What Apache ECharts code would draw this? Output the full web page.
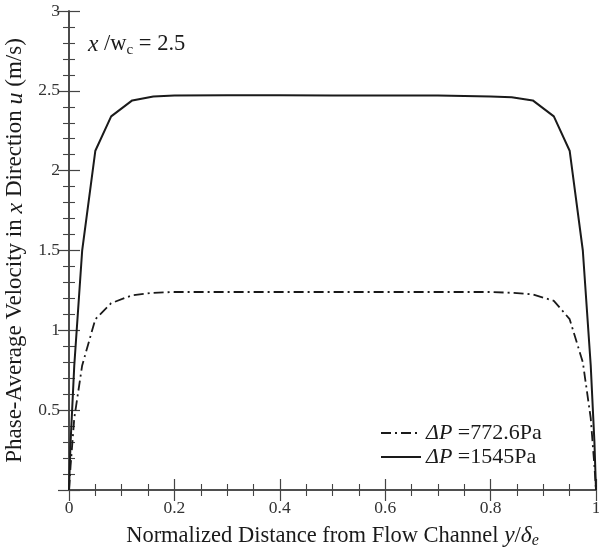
<!DOCTYPE html>
<html>
<head>
<meta charset="utf-8">
<script src="https://cdn.jsdelivr.net/npm/echarts@6/dist/echarts.min.js"></script>
<style>
  html, body { margin: 0; padding: 0; background: #fff; }
  #chart { width: 599px; height: 547px; }
</style>
</head>
<body>
<div id="chart"></div>
<script>
// Normalized distance across the flow channel, y/δe
const yPos = [0, 0.003, 0.01, 0.025, 0.05, 0.08, 0.12, 0.16, 0.2, 0.3, 0.4, 0.5, 0.6, 0.7, 0.8, 0.84, 0.88, 0.92, 0.95, 0.975, 0.99, 0.997, 1];
// Phase-average velocity u (m/s) for each pressure drop
const uLow  = [0, 0.15, 0.45, 0.78, 1.07, 1.17, 1.22, 1.235, 1.24, 1.24, 1.24, 1.24, 1.24, 1.24, 1.24, 1.235, 1.225, 1.185, 1.07, 0.8, 0.45, 0.15, 0];
const uHigh = [0, 0.3, 0.78, 1.5, 2.125, 2.34, 2.44, 2.465, 2.47, 2.472, 2.472, 2.47, 2.47, 2.47, 2.465, 2.46, 2.44, 2.34, 2.125, 1.5, 0.78, 0.3, 0];
const seriesNames = ['772.6Pa', '1545Pa'];
const xTicks = [0, 0.2, 0.4, 0.6, 0.8, 1];
const yTicks = [0.5, 1, 1.5, 2, 2.5, 3];

const serif = '"Liberation Serif", "DejaVu Serif", serif';
const ink = '#1a1a1a';

const pairs = (xs, ys) => xs.map((x, i) => [x, ys[i]]);

const baseAxis = {
  axisLine: { show: true, lineStyle: { color: '#444', width: 1.6 } },
  axisTick: { show: true, inside: true, length: 11, lineStyle: { color: '#444', width: 1.2 } },
  minorTick: { show: true, length: 6, lineStyle: { color: '#444', width: 1.1 } },
  splitLine: { show: false },
  minorSplitLine: { show: false }
};

const chart = echarts.init(document.getElementById('chart'), null, { renderer: 'canvas' });

chart.setOption({
  animation: false,
  backgroundColor: '#fff',
  grid: { left: 69, right: 3, top: 11, bottom: 57, containLabel: false, outerBoundsMode: 'none' },
  xAxis: [
    Object.assign({}, baseAxis, {
      type: 'value', position: 'bottom', min: 0, max: 1, interval: 0.2,
      minorTick: Object.assign({}, baseAxis.minorTick, { splitNumber: 4 }),
      axisLabel: {
        color: '#333', fontFamily: serif, fontSize: 17.5, margin: 9,
        formatter: v => (xTicks.some(t => Math.abs(t - v) < 1e-9) ? String(+v.toFixed(2)) : '')
      },
      name: 'Normalized Distance from Flow Channel {i|y}/{i|δ}{s|e}',
      nameLocation: 'middle', nameGap: 33,
      nameTextStyle: {
        color: ink, fontFamily: serif, fontSize: 22.5, lineHeight: 26,
        rich: {
          i: { fontFamily: serif, fontSize: 23.5, fontStyle: 'italic', color: ink, lineHeight: 26 },
          s: { fontFamily: serif, fontSize: 16, fontStyle: 'italic', color: ink, lineHeight: 14, verticalAlign: 'bottom' }
        }
      }
    }),
    Object.assign({}, baseAxis, {
      type: 'value', position: 'top', min: 0, max: 1, interval: 0.2,
      minorTick: Object.assign({}, baseAxis.minorTick, { splitNumber: 4 }),
      axisLabel: { show: false }
    })
  ],
  yAxis: [
    Object.assign({}, baseAxis, {
      type: 'value', position: 'left', min: 0, max: 3, interval: 0.5,
      minorTick: Object.assign({}, baseAxis.minorTick, { splitNumber: 5 }),
      axisLabel: {
        color: '#333', fontFamily: serif, fontSize: 17.5, margin: 9,
        formatter: v => (yTicks.some(t => Math.abs(t - v) < 1e-9) ? String(v) : '')
      },
      name: '{n|Phase-Average Velocity in }{i|x}{n| Direction }{i|u}{n| (m/s)}',
      nameLocation: 'middle', nameGap: 35, nameRotate: 90,
      nameTextStyle: {
        color: ink, fontFamily: serif, fontSize: 23,
        rich: {
          n: { fontFamily: serif, fontSize: 23, color: ink },
          i: { fontFamily: serif, fontSize: 24, fontStyle: 'italic', color: ink }
        }
      }
    }),
    Object.assign({}, baseAxis, {
      type: 'value', position: 'right', min: 0, max: 3, interval: 0.5,
      minorTick: Object.assign({}, baseAxis.minorTick, { splitNumber: 5 }),
      axisLabel: { show: false }
    })
  ],
  legend: {
    orient: 'vertical', left: 375, top: 417,
    itemWidth: 40, itemHeight: 14, itemGap: 2,
    itemStyle: { color: 'rgba(0,0,0,0)', borderColor: 'rgba(0,0,0,0)', borderWidth: 0 },
    textStyle: {
      color: ink, fontFamily: serif, fontSize: 22,
      rich: {
        i: { fontFamily: serif, fontSize: 22, fontStyle: 'italic', color: ink, lineHeight: 24 },
        n: { fontFamily: serif, fontSize: 22, color: ink, lineHeight: 24 }
      }
    },
    formatter: name => '{i|ΔP}{n| =' + name + '}',
    data: seriesNames
  },
  graphic: [{
    type: 'text', left: 88, top: 33,
    style: {
      text: '{i|x}{n| /w}{s|c}{n| = 2.5}',
      fill: ink,
      rich: {
        i: { fontFamily: serif, fontSize: 23.5, fontStyle: 'italic', fill: ink, lineHeight: 26 },
        n: { fontFamily: serif, fontSize: 22.5, fill: ink, lineHeight: 26 },
        s: { fontFamily: serif, fontSize: 15, fill: ink, lineHeight: 14, verticalAlign: 'bottom' }
      }
    }
  }],
  series: [
    {
      name: seriesNames[0], type: 'line', xAxisIndex: 0, yAxisIndex: 0,
      data: pairs(yPos, uLow), symbol: 'none', smooth: false,
      lineStyle: { color: ink, width: 1.8, type: [10, 4, 2, 4] },
      itemStyle: { color: ink }
    },
    {
      name: seriesNames[1], type: 'line', xAxisIndex: 0, yAxisIndex: 0,
      data: pairs(yPos, uHigh), symbol: 'none', smooth: false,
      lineStyle: { color: ink, width: 2 },
      itemStyle: { color: ink }
    }
  ]
});
</script>
</body>
</html>
